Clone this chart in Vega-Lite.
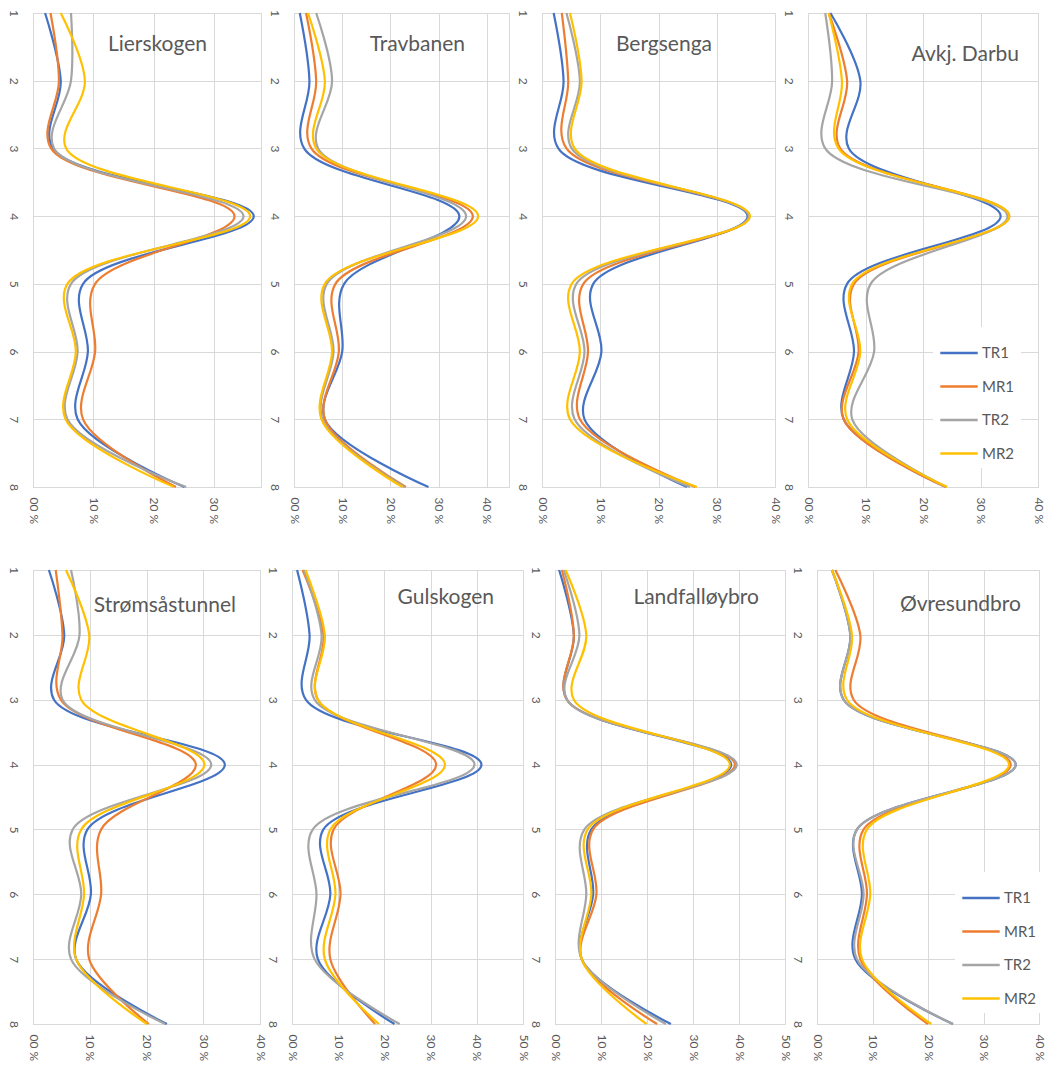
{
  "$schema": "https://vega.github.io/schema/vega-lite/v6.json",
  "background": "white",
  "padding": {"left": 6, "top": 8, "right": 0, "bottom": 0},
  "datasets": {
    "lierskogen": [
      {"series": "TR1", "cat": 1, "pct": 2.0}, {"series": "TR1", "cat": 2, "pct": 4.6}, {"series": "TR1", "cat": 3, "pct": 3.3}, {"series": "TR1", "cat": 4, "pct": 36.6},
      {"series": "TR1", "cat": 5, "pct": 8.3}, {"series": "TR1", "cat": 6, "pct": 9.1}, {"series": "TR1", "cat": 7, "pct": 7.4}, {"series": "TR1", "cat": 8, "pct": 25.1},
      {"series": "MR1", "cat": 1, "pct": 2.9}, {"series": "MR1", "cat": 2, "pct": 4.3}, {"series": "MR1", "cat": 3, "pct": 3.0}, {"series": "MR1", "cat": 4, "pct": 33.4},
      {"series": "MR1", "cat": 5, "pct": 10.3}, {"series": "MR1", "cat": 6, "pct": 10.3}, {"series": "MR1", "cat": 7, "pct": 8.3}, {"series": "MR1", "cat": 8, "pct": 23.7},
      {"series": "TR2", "cat": 1, "pct": 6.3}, {"series": "TR2", "cat": 2, "pct": 6.3}, {"series": "TR2", "cat": 3, "pct": 3.5}, {"series": "TR2", "cat": 4, "pct": 34.9},
      {"series": "TR2", "cat": 5, "pct": 6.3}, {"series": "TR2", "cat": 6, "pct": 7.4}, {"series": "TR2", "cat": 7, "pct": 5.7}, {"series": "TR2", "cat": 8, "pct": 25.4},
      {"series": "MR2", "cat": 1, "pct": 4.6}, {"series": "MR2", "cat": 2, "pct": 8.6}, {"series": "MR2", "cat": 3, "pct": 5.5}, {"series": "MR2", "cat": 4, "pct": 36.0},
      {"series": "MR2", "cat": 5, "pct": 5.7}, {"series": "MR2", "cat": 6, "pct": 7.1}, {"series": "MR2", "cat": 7, "pct": 5.4}, {"series": "MR2", "cat": 8, "pct": 23.4}
    ],
    "travbanen": [
      {"series": "TR1", "cat": 1, "pct": 1.2}, {"series": "TR1", "cat": 2, "pct": 3.2}, {"series": "TR1", "cat": 3, "pct": 2.1}, {"series": "TR1", "cat": 4, "pct": 34.3},
      {"series": "TR1", "cat": 5, "pct": 10.4}, {"series": "TR1", "cat": 6, "pct": 10.0}, {"series": "TR1", "cat": 7, "pct": 6.4}, {"series": "TR1", "cat": 8, "pct": 27.9},
      {"series": "MR1", "cat": 1, "pct": 2.5}, {"series": "MR1", "cat": 2, "pct": 4.6}, {"series": "MR1", "cat": 3, "pct": 3.6}, {"series": "MR1", "cat": 4, "pct": 37.1},
      {"series": "MR1", "cat": 5, "pct": 8.6}, {"series": "MR1", "cat": 6, "pct": 9.3}, {"series": "MR1", "cat": 7, "pct": 6.4}, {"series": "MR1", "cat": 8, "pct": 23.2},
      {"series": "TR2", "cat": 1, "pct": 4.6}, {"series": "TR2", "cat": 2, "pct": 7.9}, {"series": "TR2", "cat": 3, "pct": 5.0}, {"series": "TR2", "cat": 4, "pct": 35.7},
      {"series": "TR2", "cat": 5, "pct": 6.8}, {"series": "TR2", "cat": 6, "pct": 8.2}, {"series": "TR2", "cat": 7, "pct": 5.9}, {"series": "TR2", "cat": 8, "pct": 22.9},
      {"series": "MR2", "cat": 1, "pct": 2.9}, {"series": "MR2", "cat": 2, "pct": 6.4}, {"series": "MR2", "cat": 3, "pct": 4.6}, {"series": "MR2", "cat": 4, "pct": 38.2},
      {"series": "MR2", "cat": 5, "pct": 6.4}, {"series": "MR2", "cat": 6, "pct": 7.9}, {"series": "MR2", "cat": 7, "pct": 5.7}, {"series": "MR2", "cat": 8, "pct": 22.5}
    ],
    "bergsenga": [
      {"series": "TR1", "cat": 1, "pct": 2.0}, {"series": "TR1", "cat": 2, "pct": 3.7}, {"series": "TR1", "cat": 3, "pct": 2.8}, {"series": "TR1", "cat": 4, "pct": 35.3},
      {"series": "TR1", "cat": 5, "pct": 8.8}, {"series": "TR1", "cat": 6, "pct": 10.2}, {"series": "TR1", "cat": 7, "pct": 7.3}, {"series": "TR1", "cat": 8, "pct": 24.9},
      {"series": "MR1", "cat": 1, "pct": 3.4}, {"series": "MR1", "cat": 2, "pct": 4.5}, {"series": "MR1", "cat": 3, "pct": 4.2}, {"series": "MR1", "cat": 4, "pct": 35.6},
      {"series": "MR1", "cat": 5, "pct": 7.1}, {"series": "MR1", "cat": 6, "pct": 7.9}, {"series": "MR1", "cat": 7, "pct": 6.5}, {"series": "MR1", "cat": 8, "pct": 26.3},
      {"series": "TR2", "cat": 1, "pct": 4.2}, {"series": "TR2", "cat": 2, "pct": 6.5}, {"series": "TR2", "cat": 3, "pct": 5.1}, {"series": "TR2", "cat": 4, "pct": 35.5},
      {"series": "TR2", "cat": 5, "pct": 5.9}, {"series": "TR2", "cat": 6, "pct": 7.3}, {"series": "TR2", "cat": 7, "pct": 5.6}, {"series": "TR2", "cat": 8, "pct": 25.4},
      {"series": "MR2", "cat": 1, "pct": 4.8}, {"series": "MR2", "cat": 2, "pct": 6.8}, {"series": "MR2", "cat": 3, "pct": 5.6}, {"series": "MR2", "cat": 4, "pct": 35.7},
      {"series": "MR2", "cat": 5, "pct": 5.1}, {"series": "MR2", "cat": 6, "pct": 6.5}, {"series": "MR2", "cat": 7, "pct": 4.8}, {"series": "MR2", "cat": 8, "pct": 26.6}
    ],
    "darbu": [
      {"series": "TR1", "cat": 1, "pct": 3.9}, {"series": "TR1", "cat": 2, "pct": 9.1}, {"series": "TR1", "cat": 3, "pct": 7.1}, {"series": "TR1", "cat": 4, "pct": 33.5},
      {"series": "TR1", "cat": 5, "pct": 6.8}, {"series": "TR1", "cat": 6, "pct": 8.0}, {"series": "TR1", "cat": 7, "pct": 6.2}, {"series": "TR1", "cat": 8, "pct": 24.0},
      {"series": "MR1", "cat": 1, "pct": 3.6}, {"series": "MR1", "cat": 2, "pct": 6.8}, {"series": "MR1", "cat": 3, "pct": 5.6}, {"series": "MR1", "cat": 4, "pct": 35.0},
      {"series": "MR1", "cat": 5, "pct": 8.0}, {"series": "MR1", "cat": 6, "pct": 8.8}, {"series": "MR1", "cat": 7, "pct": 6.2}, {"series": "MR1", "cat": 8, "pct": 24.0},
      {"series": "TR2", "cat": 1, "pct": 3.0}, {"series": "TR2", "cat": 2, "pct": 4.2}, {"series": "TR2", "cat": 3, "pct": 3.0}, {"series": "TR2", "cat": 4, "pct": 34.7},
      {"series": "TR2", "cat": 5, "pct": 10.9}, {"series": "TR2", "cat": 6, "pct": 11.5}, {"series": "TR2", "cat": 7, "pct": 7.7}, {"series": "TR2", "cat": 8, "pct": 24.1},
      {"series": "MR2", "cat": 1, "pct": 3.6}, {"series": "MR2", "cat": 2, "pct": 5.9}, {"series": "MR2", "cat": 3, "pct": 5.3}, {"series": "MR2", "cat": 4, "pct": 35.0},
      {"series": "MR2", "cat": 5, "pct": 7.7}, {"series": "MR2", "cat": 6, "pct": 9.1}, {"series": "MR2", "cat": 7, "pct": 6.8}, {"series": "MR2", "cat": 8, "pct": 24.2}
    ],
    "stromsaastunnel": [
      {"series": "TR1", "cat": 1, "pct": 2.8}, {"series": "TR1", "cat": 2, "pct": 5.5}, {"series": "TR1", "cat": 3, "pct": 3.7}, {"series": "TR1", "cat": 4, "pct": 33.8},
      {"series": "TR1", "cat": 5, "pct": 9.6}, {"series": "TR1", "cat": 6, "pct": 10.2}, {"series": "TR1", "cat": 7, "pct": 7.6}, {"series": "TR1", "cat": 8, "pct": 23.6},
      {"series": "MR1", "cat": 1, "pct": 4.0}, {"series": "MR1", "cat": 2, "pct": 5.2}, {"series": "MR1", "cat": 3, "pct": 4.9}, {"series": "MR1", "cat": 4, "pct": 28.7},
      {"series": "MR1", "cat": 5, "pct": 12.0}, {"series": "MR1", "cat": 6, "pct": 12.0}, {"series": "MR1", "cat": 7, "pct": 9.9}, {"series": "MR1", "cat": 8, "pct": 20.4},
      {"series": "TR2", "cat": 1, "pct": 6.7}, {"series": "TR2", "cat": 2, "pct": 8.2}, {"series": "TR2", "cat": 3, "pct": 5.2}, {"series": "TR2", "cat": 4, "pct": 31.4},
      {"series": "TR2", "cat": 5, "pct": 7.0}, {"series": "TR2", "cat": 6, "pct": 8.5}, {"series": "TR2", "cat": 7, "pct": 6.7}, {"series": "TR2", "cat": 8, "pct": 23.3},
      {"series": "MR2", "cat": 1, "pct": 5.8}, {"series": "MR2", "cat": 2, "pct": 9.9}, {"series": "MR2", "cat": 3, "pct": 8.5}, {"series": "MR2", "cat": 4, "pct": 30.2},
      {"series": "MR2", "cat": 5, "pct": 8.5}, {"series": "MR2", "cat": 6, "pct": 9.0}, {"series": "MR2", "cat": 7, "pct": 7.6}, {"series": "MR2", "cat": 8, "pct": 20.1}
    ],
    "gulskogen": [
      {"series": "TR1", "cat": 1, "pct": 1.1}, {"series": "TR1", "cat": 2, "pct": 3.8}, {"series": "TR1", "cat": 3, "pct": 3.0}, {"series": "TR1", "cat": 4, "pct": 41.0},
      {"series": "TR1", "cat": 5, "pct": 6.8}, {"series": "TR1", "cat": 6, "pct": 8.3}, {"series": "TR1", "cat": 7, "pct": 5.6}, {"series": "TR1", "cat": 8, "pct": 22.2},
      {"series": "MR1", "cat": 1, "pct": 2.3}, {"series": "MR1", "cat": 2, "pct": 6.8}, {"series": "MR1", "cat": 3, "pct": 5.6}, {"series": "MR1", "cat": 4, "pct": 31.2},
      {"series": "MR1", "cat": 5, "pct": 9.0}, {"series": "MR1", "cat": 6, "pct": 10.5}, {"series": "MR1", "cat": 7, "pct": 8.3}, {"series": "MR1", "cat": 8, "pct": 18.0},
      {"series": "TR2", "cat": 1, "pct": 2.6}, {"series": "TR2", "cat": 2, "pct": 6.4}, {"series": "TR2", "cat": 3, "pct": 4.9}, {"series": "TR2", "cat": 4, "pct": 39.5},
      {"series": "TR2", "cat": 5, "pct": 4.5}, {"series": "TR2", "cat": 6, "pct": 5.3}, {"series": "TR2", "cat": 7, "pct": 4.9}, {"series": "TR2", "cat": 8, "pct": 23.3},
      {"series": "MR2", "cat": 1, "pct": 2.9}, {"series": "MR2", "cat": 2, "pct": 7.1}, {"series": "MR2", "cat": 3, "pct": 5.6}, {"series": "MR2", "cat": 4, "pct": 33.1},
      {"series": "MR2", "cat": 5, "pct": 8.3}, {"series": "MR2", "cat": 6, "pct": 9.4}, {"series": "MR2", "cat": 7, "pct": 7.1}, {"series": "MR2", "cat": 8, "pct": 18.8}
    ],
    "landfalloybro": [
      {"series": "TR1", "cat": 1, "pct": 0.9}, {"series": "TR1", "cat": 2, "pct": 4.1}, {"series": "TR1", "cat": 3, "pct": 2.6}, {"series": "TR1", "cat": 4, "pct": 38.3},
      {"series": "TR1", "cat": 5, "pct": 7.9}, {"series": "TR1", "cat": 6, "pct": 8.3}, {"series": "TR1", "cat": 7, "pct": 5.8}, {"series": "TR1", "cat": 8, "pct": 25.2},
      {"series": "MR1", "cat": 1, "pct": 1.5}, {"series": "MR1", "cat": 2, "pct": 4.1}, {"series": "MR1", "cat": 3, "pct": 2.6}, {"series": "MR1", "cat": 4, "pct": 39.1},
      {"series": "MR1", "cat": 5, "pct": 8.3}, {"series": "MR1", "cat": 6, "pct": 9.0}, {"series": "MR1", "cat": 7, "pct": 5.8}, {"series": "MR1", "cat": 8, "pct": 22.2},
      {"series": "TR2", "cat": 1, "pct": 1.9}, {"series": "TR2", "cat": 2, "pct": 5.3}, {"series": "TR2", "cat": 3, "pct": 2.6}, {"series": "TR2", "cat": 4, "pct": 39.5},
      {"series": "TR2", "cat": 5, "pct": 6.4}, {"series": "TR2", "cat": 6, "pct": 6.8}, {"series": "TR2", "cat": 7, "pct": 5.8}, {"series": "TR2", "cat": 8, "pct": 24.1},
      {"series": "MR2", "cat": 1, "pct": 2.3}, {"series": "MR2", "cat": 2, "pct": 6.8}, {"series": "MR2", "cat": 3, "pct": 4.1}, {"series": "MR2", "cat": 4, "pct": 38.0},
      {"series": "MR2", "cat": 5, "pct": 7.1}, {"series": "MR2", "cat": 6, "pct": 7.9}, {"series": "MR2", "cat": 7, "pct": 5.8}, {"series": "MR2", "cat": 8, "pct": 19.9}
    ],
    "ovresundbro": [
      {"series": "TR1", "cat": 1, "pct": 2.7}, {"series": "TR1", "cat": 2, "pct": 6.0}, {"series": "TR1", "cat": 3, "pct": 4.8}, {"series": "TR1", "cat": 4, "pct": 35.8},
      {"series": "TR1", "cat": 5, "pct": 7.2}, {"series": "TR1", "cat": 6, "pct": 8.1}, {"series": "TR1", "cat": 7, "pct": 6.9}, {"series": "TR1", "cat": 8, "pct": 24.5},
      {"series": "MR1", "cat": 1, "pct": 3.3}, {"series": "MR1", "cat": 2, "pct": 7.8}, {"series": "MR1", "cat": 3, "pct": 6.6}, {"series": "MR1", "cat": 4, "pct": 34.9},
      {"series": "MR1", "cat": 5, "pct": 8.4}, {"series": "MR1", "cat": 6, "pct": 9.0}, {"series": "MR1", "cat": 7, "pct": 7.8}, {"series": "MR1", "cat": 8, "pct": 20.0},
      {"series": "TR2", "cat": 1, "pct": 2.7}, {"series": "TR2", "cat": 2, "pct": 6.0}, {"series": "TR2", "cat": 3, "pct": 4.8}, {"series": "TR2", "cat": 4, "pct": 35.8},
      {"series": "TR2", "cat": 5, "pct": 7.2}, {"series": "TR2", "cat": 6, "pct": 8.4}, {"series": "TR2", "cat": 7, "pct": 7.2}, {"series": "TR2", "cat": 8, "pct": 24.5},
      {"series": "MR2", "cat": 1, "pct": 2.7}, {"series": "MR2", "cat": 2, "pct": 6.3}, {"series": "MR2", "cat": 3, "pct": 5.4}, {"series": "MR2", "cat": 4, "pct": 34.6},
      {"series": "MR2", "cat": 5, "pct": 9.0}, {"series": "MR2", "cat": 6, "pct": 9.6}, {"series": "MR2", "cat": 7, "pct": 8.1}, {"series": "MR2", "cat": 8, "pct": 20.6}
    ]
  },
  "vconcat": [
    {
      "hconcat": [
        {
          "width": 228, "height": 474,
          "title": {"text": "Lierskogen", "dx": -54, "offset": -46},
          "data": {"name": "lierskogen"},
          "mark": {"type": "line", "interpolate": "catmull-rom", "strokeWidth": 2.2},
          "encoding": {
            "x": {"field": "pct", "type": "quantitative", "title": null, "scale": {"domain": [0, 37.8], "nice": false, "zero": true}, "axis": {"values": [0, 10, 20, 30]}},
            "y": {"field": "cat", "type": "quantitative", "title": null, "scale": {"domain": [1, 8], "reverse": true, "nice": false, "zero": false}, "axis": {"values": [1, 2, 3, 4, 5, 6, 7, 8]}},
            "color": {"field": "series", "type": "nominal", "scale": {"domain": ["TR1", "MR1", "TR2", "MR2"], "range": ["#4472C4", "#ED7D31", "#A5A5A5", "#FFC000"]}, "legend": null},
            "order": {"field": "cat", "type": "quantitative"}
          }
        },
        {
          "width": 215, "height": 474,
          "title": {"text": "Travbanen", "dx": -44, "offset": -46},
          "data": {"name": "travbanen"},
          "mark": {"type": "line", "interpolate": "catmull-rom", "strokeWidth": 2.2},
          "encoding": {
            "x": {"field": "pct", "type": "quantitative", "title": null, "scale": {"domain": [0, 44.6], "nice": false, "zero": true}, "axis": {"values": [0, 10, 20, 30, 40]}},
            "y": {"field": "cat", "type": "quantitative", "title": null, "scale": {"domain": [1, 8], "reverse": true, "nice": false, "zero": false}, "axis": {"values": [1, 2, 3, 4, 5, 6, 7, 8]}},
            "color": {"field": "series", "type": "nominal", "scale": {"domain": ["TR1", "MR1", "TR2", "MR2"], "range": ["#4472C4", "#ED7D31", "#A5A5A5", "#FFC000"]}, "legend": null},
            "order": {"field": "cat", "type": "quantitative"}
          }
        },
        {
          "width": 233, "height": 474,
          "title": {"text": "Bergsenga", "dx": -63, "offset": -46},
          "data": {"name": "bergsenga"},
          "mark": {"type": "line", "interpolate": "catmull-rom", "strokeWidth": 2.2},
          "encoding": {
            "x": {"field": "pct", "type": "quantitative", "title": null, "scale": {"domain": [0, 40], "nice": false, "zero": true}, "axis": {"values": [0, 10, 20, 30, 40]}},
            "y": {"field": "cat", "type": "quantitative", "title": null, "scale": {"domain": [1, 8], "reverse": true, "nice": false, "zero": false}, "axis": {"values": [1, 2, 3, 4, 5, 6, 7, 8]}},
            "color": {"field": "series", "type": "nominal", "scale": {"domain": ["TR1", "MR1", "TR2", "MR2"], "range": ["#4472C4", "#ED7D31", "#A5A5A5", "#FFC000"]}, "legend": null},
            "order": {"field": "cat", "type": "quantitative"}
          }
        },
        {
          "width": 230, "height": 474,
          "title": {"text": "Avkj. Darbu", "dx": -19, "offset": -56},
          "data": {"name": "darbu"},
          "mark": {"type": "line", "interpolate": "catmull-rom", "strokeWidth": 2.2},
          "encoding": {
            "x": {"field": "pct", "type": "quantitative", "title": null, "scale": {"domain": [0, 40], "nice": false, "zero": true}, "axis": {"values": [0, 10, 20, 30, 40]}},
            "y": {"field": "cat", "type": "quantitative", "title": null, "scale": {"domain": [1, 8], "reverse": true, "nice": false, "zero": false}, "axis": {"values": [1, 2, 3, 4, 5, 6, 7, 8]}},
            "color": {"field": "series", "type": "nominal", "scale": {"domain": ["TR1", "MR1", "TR2", "MR2"], "range": ["#4472C4", "#ED7D31", "#A5A5A5", "#FFC000"]}, "legend": {"orient": "none", "legendX": 125, "legendY": 314}},
            "order": {"field": "cat", "type": "quantitative"}
          }
        }
      ],
      "spacing": 33,
      "bounds": "flush",
      "resolve": {"scale": {"color": "independent"}, "legend": {"color": "independent"}}
    },
    {
      "hconcat": [
        {
          "width": 227, "height": 454,
          "title": {"text": "Strømsåstunnel", "dx": -24, "offset": -50},
          "data": {"name": "stromsaastunnel"},
          "mark": {"type": "line", "interpolate": "catmull-rom", "strokeWidth": 2.2},
          "encoding": {
            "x": {"field": "pct", "type": "quantitative", "title": null, "scale": {"domain": [0, 40], "nice": false, "zero": true}, "axis": {"values": [0, 10, 20, 30, 40]}},
            "y": {"field": "cat", "type": "quantitative", "title": null, "scale": {"domain": [1, 8], "reverse": true, "nice": false, "zero": false}, "axis": {"values": [1, 2, 3, 4, 5, 6, 7, 8]}},
            "color": {"field": "series", "type": "nominal", "scale": {"domain": ["TR1", "MR1", "TR2", "MR2"], "range": ["#4472C4", "#ED7D31", "#A5A5A5", "#FFC000"]}, "legend": null},
            "order": {"field": "cat", "type": "quantitative"}
          }
        },
        {
          "width": 231, "height": 454,
          "title": {"text": "Gulskogen", "dx": -29, "offset": -42},
          "data": {"name": "gulskogen"},
          "mark": {"type": "line", "interpolate": "catmull-rom", "strokeWidth": 2.2},
          "encoding": {
            "x": {"field": "pct", "type": "quantitative", "title": null, "scale": {"domain": [0, 50], "nice": false, "zero": true}, "axis": {"values": [0, 10, 20, 30, 40, 50]}},
            "y": {"field": "cat", "type": "quantitative", "title": null, "scale": {"domain": [1, 8], "reverse": true, "nice": false, "zero": false}, "axis": {"values": [1, 2, 3, 4, 5, 6, 7, 8]}},
            "color": {"field": "series", "type": "nominal", "scale": {"domain": ["TR1", "MR1", "TR2", "MR2"], "range": ["#4472C4", "#ED7D31", "#A5A5A5", "#FFC000"]}, "legend": null},
            "order": {"field": "cat", "type": "quantitative"}
          }
        },
        {
          "width": 230, "height": 454,
          "title": {"text": "Landfalløybro", "dx": -26, "offset": -42},
          "data": {"name": "landfalloybro"},
          "mark": {"type": "line", "interpolate": "catmull-rom", "strokeWidth": 2.2},
          "encoding": {
            "x": {"field": "pct", "type": "quantitative", "title": null, "scale": {"domain": [0, 50], "nice": false, "zero": true}, "axis": {"values": [0, 10, 20, 30, 40, 50]}},
            "y": {"field": "cat", "type": "quantitative", "title": null, "scale": {"domain": [1, 8], "reverse": true, "nice": false, "zero": false}, "axis": {"values": [1, 2, 3, 4, 5, 6, 7, 8]}},
            "color": {"field": "series", "type": "nominal", "scale": {"domain": ["TR1", "MR1", "TR2", "MR2"], "range": ["#4472C4", "#ED7D31", "#A5A5A5", "#FFC000"]}, "legend": null},
            "order": {"field": "cat", "type": "quantitative"}
          }
        },
        {
          "width": 222, "height": 454,
          "title": {"text": "Øvresundbro", "dx": -18, "offset": -49},
          "data": {"name": "ovresundbro"},
          "mark": {"type": "line", "interpolate": "catmull-rom", "strokeWidth": 2.2},
          "encoding": {
            "x": {"field": "pct", "type": "quantitative", "title": null, "scale": {"domain": [0, 40], "nice": false, "zero": true}, "axis": {"values": [0, 10, 20, 30, 40]}},
            "y": {"field": "cat", "type": "quantitative", "title": null, "scale": {"domain": [1, 8], "reverse": true, "nice": false, "zero": false}, "axis": {"values": [1, 2, 3, 4, 5, 6, 7, 8]}},
            "color": {"field": "series", "type": "nominal", "scale": {"domain": ["TR1", "MR1", "TR2", "MR2"], "range": ["#4472C4", "#ED7D31", "#A5A5A5", "#FFC000"]}, "legend": {"orient": "none", "legendX": 138, "legendY": 302}},
            "order": {"field": "cat", "type": "quantitative"}
          }
        }
      ],
      "spacing": 32,
      "bounds": "flush",
      "resolve": {"scale": {"color": "independent"}, "legend": {"color": "independent"}}
    }
  ],
  "spacing": 40,
  "resolve": {"scale": {"color": "independent"}, "legend": {"color": "independent"}},
  "config": {
    "font": "Lato",
    "view": {"stroke": "#d9d9d9", "strokeWidth": 1},
    "axis": {
      "grid": true, "gridColor": "#d9d9d9", "gridWidth": 1,
      "domain": false, "ticks": false,
      "labelColor": "#595959", "labelFontSize": 12, "labelAngle": 90
    },
    "axisX": {"labelPadding": 10, "labelExpr": "(datum.value < 10 ? '0' : '') + datum.value + ' %'"},
    "axisY": {"labelPadding": 15, "format": "d"},
    "title": {"anchor": "end", "frame": "group", "fontSize": 21, "fontWeight": "normal", "color": "#595959", "baseline": "middle"},
    "legend": {
      "title": null, "symbolType": "stroke", "symbolSize": 1400, "symbolStrokeWidth": 2.5,
      "labelFontSize": 15, "labelColor": "#595959", "labelOffset": 3, "rowPadding": 5.5,
      "fillColor": "white", "padding": 6
    }
  }
}
